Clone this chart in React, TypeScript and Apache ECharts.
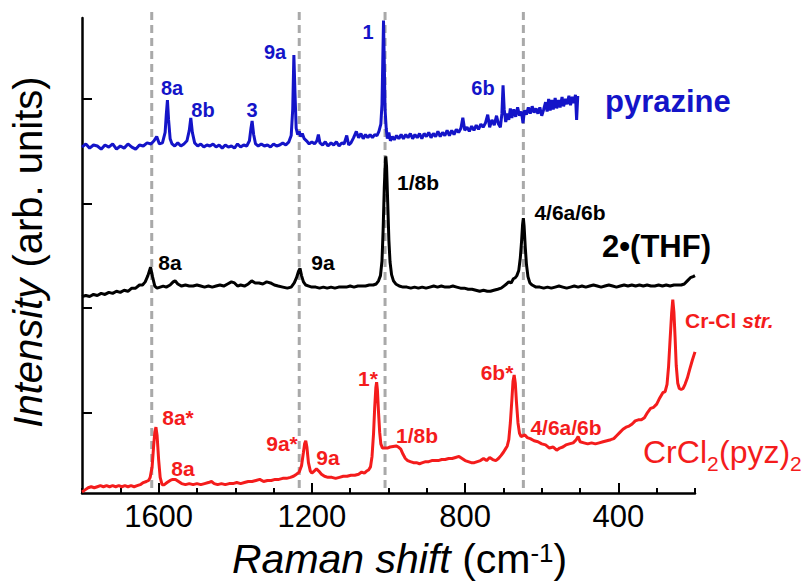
import React, { useEffect, useRef } from 'react';
import * as echarts from 'echarts';

const FONT = "'Liberation Sans', Arial, Helvetica, sans-serif";
const BLUE = '#1414c8';
const RED = '#f41c1c';
const BLACK = '#000000';
const GRAY = '#a9a9a9';

// axis ticks
const xTickLabels = [400, 800, 1200, 1600];
const xMinorTicks = [200, 300, 400, 500, 600, 700, 800, 900, 1000, 1100, 1200, 1300, 1400, 1500, 1600, 1700, 1800];
const yTicks = [0, 1, 2, 3];
const referenceLines = [1618, 1233, 1009, 648];

// pyrazine (blue)
const pyrazine: [number, number][] = [
  [1800,2.54],[1790,2.57],[1780,2.53],[1770,2.56],[1760,2.55],[1750,2.52],[1740,2.56],[1730,2.54],[1720,2.57],[1710,2.52],
  [1700,2.55],[1690,2.53],[1680,2.57],[1670,2.54],[1660,2.52],[1650,2.56],[1640,2.55],[1630,2.58],[1620,2.57],[1612,2.60],
  [1605,2.64],[1598,2.57],[1590,2.58],[1583,2.68],[1580,2.85],[1577,2.99],[1574,2.80],[1570,2.62],[1565,2.57],[1558,2.55],
  [1550,2.58],[1542,2.55],[1534,2.57],[1526,2.60],[1520,2.70],[1516,2.82],[1512,2.68],[1506,2.58],[1498,2.55],[1490,2.57],
  [1482,2.54],[1474,2.56],[1466,2.55],[1458,2.57],[1450,2.54],[1442,2.56],[1434,2.53],[1426,2.56],[1418,2.54],[1410,2.55],
  [1402,2.53],[1394,2.57],[1386,2.54],[1378,2.56],[1370,2.55],[1363,2.60],[1359,2.72],[1356,2.79],[1352,2.66],[1347,2.57],
  [1340,2.55],[1332,2.57],[1324,2.55],[1316,2.56],[1308,2.54],[1300,2.57],[1292,2.55],[1284,2.56],[1276,2.58],[1268,2.56],
  [1260,2.59],[1254,2.65],[1250,2.90],[1247,3.42],[1244,3.05],[1241,2.72],[1237,2.66],[1233,2.69],[1229,2.64],[1225,2.67],
  [1220,2.62],[1214,2.60],[1207,2.57],[1200,2.59],[1193,2.57],[1187,2.60],[1183,2.66],[1179,2.58],[1172,2.56],[1165,2.59],
  [1158,2.55],[1150,2.58],[1143,2.56],[1136,2.59],[1129,2.55],[1122,2.58],[1116,2.57],[1109,2.65],[1104,2.56],[1098,2.58],
  [1091,2.63],[1084,2.69],[1078,2.63],[1072,2.67],[1066,2.62],[1060,2.66],[1054,2.63],[1048,2.66],[1042,2.63],[1036,2.66],
  [1030,2.65],[1025,2.69],[1020,2.76],[1017,2.95],[1015,3.35],[1013,3.75],[1011,3.35],[1009,2.90],[1006,2.72],[1003,2.62],
  [999,2.68],[995,2.60],[990,2.64],[985,2.61],[979,2.65],[973,2.62],[967,2.66],[961,2.62],[955,2.66],[949,2.63],
  [943,2.67],[937,2.62],[931,2.66],[925,2.63],[919,2.67],[913,2.62],[907,2.67],[901,2.64],[895,2.68],[889,2.63],
  [883,2.67],[877,2.64],[871,2.69],[865,2.64],[859,2.68],[853,2.65],[847,2.70],[841,2.65],[835,2.70],[829,2.66],
  [823,2.71],[817,2.68],[811,2.72],[806,2.82],[801,2.70],[795,2.73],[789,2.69],[783,2.74],[777,2.70],[771,2.75],
  [765,2.71],[759,2.76],[753,2.73],[747,2.77],[741,2.85],[736,2.73],[730,2.80],[724,2.75],[718,2.84],[713,2.76],
  [708,2.73],[704,2.86],[701,3.13],[698,2.90],[694,2.78],[690,2.86],[686,2.80],[682,2.91],[678,2.82],[673,2.90],
  [668,2.83],[663,2.92],[658,2.84],[653,2.88],[649,2.77],[645,2.89],[640,2.85],[635,2.92],[630,2.86],[625,2.93],
  [620,2.87],[615,2.91],[610,2.86],[605,2.92],[600,2.84],[595,2.90],[590,2.97],[586,2.88],[582,3.00],[578,2.89],
  [574,2.99],[570,2.90],[565,3.01],[561,2.91],[556,2.99],[552,2.92],[547,3.02],[543,2.93],[538,3.00],[534,2.95],
  [529,3.03],[525,2.94],[520,3.02],[516,2.96],[512,3.04],[509,2.80],[506,3.03]
];

// 2•(THF) (black)
const thf: [number, number][] = [
  [1800,1.11],[1790,1.12],[1780,1.11],[1770,1.13],[1760,1.12],[1750,1.14],[1740,1.13],[1730,1.15],[1720,1.14],[1710,1.16],
  [1700,1.15],[1690,1.17],[1680,1.16],[1670,1.19],[1660,1.19],[1650,1.22],[1642,1.22],[1635,1.25],[1628,1.31],[1621,1.39],
  [1616,1.30],[1610,1.21],[1604,1.19],[1596,1.20],[1588,1.21],[1580,1.20],[1570,1.22],[1562,1.25],[1557,1.26],[1550,1.23],
  [1540,1.21],[1530,1.22],[1520,1.21],[1510,1.21],[1500,1.22],[1490,1.21],[1480,1.20],[1470,1.21],[1460,1.20],[1450,1.21],
  [1440,1.22],[1430,1.21],[1420,1.23],[1410,1.25],[1402,1.24],[1394,1.21],[1386,1.22],[1376,1.21],[1366,1.23],[1357,1.26],
  [1348,1.24],[1338,1.24],[1328,1.23],[1318,1.25],[1308,1.24],[1298,1.22],[1288,1.21],[1276,1.20],[1264,1.19],[1254,1.20],
  [1246,1.24],[1240,1.29],[1235,1.35],[1231,1.38],[1227,1.31],[1222,1.25],[1216,1.22],[1208,1.21],[1200,1.20],[1190,1.20],
  [1180,1.19],[1170,1.20],[1160,1.19],[1150,1.20],[1140,1.19],[1130,1.20],[1120,1.20],[1110,1.20],[1100,1.21],[1090,1.20],
  [1080,1.21],[1070,1.21],[1060,1.21],[1050,1.22],[1040,1.22],[1032,1.23],[1026,1.26],[1021,1.31],[1017,1.45],[1014,1.75],
  [1011,2.15],[1008,2.42],[1007,2.45],[1005,2.35],[1002,2.00],[999,1.65],[996,1.44],[992,1.32],[987,1.26],[981,1.23],
  [972,1.21],[962,1.20],[952,1.20],[942,1.19],[932,1.20],[922,1.19],[912,1.20],[902,1.19],[892,1.20],[882,1.21],
  [872,1.20],[862,1.21],[852,1.20],[842,1.20],[832,1.21],[822,1.20],[812,1.19],[802,1.19],[792,1.18],[782,1.18],
  [772,1.17],[762,1.16],[752,1.17],[742,1.16],[734,1.16],[725,1.17],[715,1.18],[706,1.19],[699,1.21],[692,1.23],
  [686,1.25],[680,1.24],[674,1.28],[669,1.29],[665,1.31],[660,1.36],[656,1.48],[653,1.62],[650,1.80],[648,1.86],
  [646,1.78],[643,1.58],[640,1.42],[636,1.30],[631,1.24],[625,1.22],[615,1.20],[605,1.20],[595,1.19],[585,1.20],
  [575,1.19],[565,1.20],[555,1.21],[545,1.20],[535,1.19],[525,1.20],[515,1.21],[505,1.20],[495,1.21],[485,1.20],
  [475,1.21],[465,1.22],[455,1.21],[445,1.20],[435,1.21],[425,1.22],[415,1.21],[405,1.20],[395,1.21],[385,1.22],
  [375,1.21],[365,1.22],[355,1.21],[345,1.22],[335,1.21],[325,1.22],[315,1.21],[305,1.21],[295,1.22],[285,1.21],
  [275,1.22],[265,1.21],[255,1.22],[245,1.22],[236,1.22],[228,1.23],[220,1.26],[212,1.29],[205,1.30],[200,1.31]
];

// CrCl2(pyz)2 (red)
const crcl2: [number, number][] = [
  [1800,-0.76],[1792,-0.74],[1784,-0.72],[1776,-0.71],[1768,-0.72],[1760,-0.71],[1752,-0.70],[1744,-0.71],[1736,-0.70],[1728,-0.71],
  [1720,-0.70],[1712,-0.71],[1704,-0.70],[1696,-0.71],[1688,-0.70],[1680,-0.71],[1672,-0.70],[1664,-0.71],[1656,-0.70],[1648,-0.69],
  [1640,-0.67],[1632,-0.66],[1626,-0.65],[1622,-0.62],[1617,-0.52],[1613,-0.32],[1610,-0.19],[1607,-0.14],[1604,-0.22],[1600,-0.45],
  [1596,-0.62],[1591,-0.69],[1585,-0.69],[1578,-0.67],[1570,-0.65],[1563,-0.64],[1556,-0.64],[1548,-0.66],[1540,-0.68],[1530,-0.69],
  [1520,-0.68],[1510,-0.69],[1500,-0.68],[1490,-0.69],[1480,-0.68],[1470,-0.67],[1462,-0.66],[1455,-0.68],[1446,-0.69],[1436,-0.68],
  [1426,-0.69],[1416,-0.68],[1406,-0.68],[1396,-0.67],[1386,-0.68],[1376,-0.67],[1366,-0.66],[1356,-0.66],[1346,-0.65],[1336,-0.64],
  [1326,-0.66],[1316,-0.65],[1306,-0.65],[1296,-0.64],[1286,-0.64],[1276,-0.63],[1266,-0.63],[1256,-0.62],[1248,-0.61],[1240,-0.59],
  [1233,-0.57],[1227,-0.51],[1222,-0.38],[1219,-0.30],[1216,-0.27],[1213,-0.33],[1209,-0.48],[1204,-0.56],[1200,-0.58],[1194,-0.56],
  [1188,-0.54],[1182,-0.56],[1175,-0.59],[1167,-0.61],[1158,-0.62],[1148,-0.62],[1138,-0.63],[1128,-0.62],[1118,-0.61],[1108,-0.61],
  [1098,-0.60],[1088,-0.60],[1078,-0.59],[1070,-0.57],[1063,-0.58],[1057,-0.56],[1052,-0.55],[1047,-0.52],[1043,-0.42],[1039,-0.20],
  [1036,0.05],[1033,0.24],[1031,0.29],[1029,0.22],[1026,0.00],[1023,-0.19],[1020,-0.30],[1016,-0.34],[1010,-0.34],[1003,-0.34],
  [996,-0.33],[988,-0.325],[980,-0.32],[974,-0.33],[968,-0.35],[962,-0.40],[956,-0.44],[950,-0.46],[943,-0.47],[935,-0.48],
  [927,-0.48],[919,-0.49],[911,-0.48],[903,-0.47],[895,-0.47],[887,-0.46],[879,-0.46],[870,-0.46],[861,-0.45],[852,-0.45],
  [843,-0.44],[834,-0.44],[825,-0.43],[816,-0.42],[808,-0.44],[800,-0.46],[792,-0.47],[784,-0.48],[776,-0.48],[768,-0.47],
  [760,-0.46],[752,-0.44],[744,-0.46],[736,-0.43],[728,-0.45],[720,-0.46],[713,-0.44],[706,-0.41],[700,-0.38],[695,-0.35],
  [690,-0.32],[686,-0.26],[682,-0.10],[678,0.12],[675,0.30],[672,0.36],[669,0.28],[666,0.10],[662,-0.10],[658,-0.20],
  [654,-0.23],[648,-0.22],[644,-0.215],[638,-0.24],[630,-0.25],[620,-0.27],[610,-0.28],[600,-0.30],[590,-0.31],[580,-0.34],
  [570,-0.33],[561,-0.36],[553,-0.34],[545,-0.33],[537,-0.31],[528,-0.30],[518,-0.29],[510,-0.26],[505,-0.23],[500,-0.28],
  [490,-0.29],[480,-0.30],[470,-0.29],[460,-0.30],[450,-0.29],[440,-0.28],[430,-0.27],[420,-0.26],[412,-0.25],[404,-0.22],
  [396,-0.19],[388,-0.16],[380,-0.14],[372,-0.13],[364,-0.11],[356,-0.08],[348,-0.07],[340,-0.07],[332,-0.05],[324,0.00],
  [316,0.04],[308,0.05],[300,0.08],[292,0.14],[284,0.19],[278,0.20],[273,0.27],[269,0.44],[265,0.70],[261,0.95],
  [258,1.08],[255,0.96],[252,0.72],[249,0.45],[245,0.28],[241,0.23],[236,0.22],[231,0.23],[226,0.27],[220,0.33],
  [214,0.41],[207,0.50],[200,0.58]
];

const peakLabelTexts = {
  blue: ['8a', '8b', '3', '9a', '1', '6b'],
  black: ['8a', '9a', '1/8b', '4/6a/6b'],
  red: ['8a*', '8a', '9a*', '9a', '1*', '1/8b', '6b*', '4/6a/6b'],
};

// layout of the annotation texts (pixels)
const blueLabelPos = [[172, 88], [203, 110], [252, 110], [275, 52], [368, 32], [483, 88]];
const blackLabelPos = [[170, 262], [323, 262], [418, 182], [570, 212]];
const redLabelPos = [[178, 417], [183, 468], [282, 443], [328, 457], [368, 378], [417, 435], [497, 372], [566, 427]];

function peakLabel(text: string, pos: number[], color: string, size: number) {
  return {
    type: 'text',
    x: pos[0],
    y: pos[1],
    silent: true,
    style: {
      text,
      fill: color,
      fontSize: size,
      fontWeight: 'bold',
      fontFamily: FONT,
      align: 'center',
      verticalAlign: 'middle',
    },
  };
}

export default function App() {
  const ref = useRef<HTMLDivElement>(null);

  useEffect(() => {
    if (!ref.current) return;
    const chart = echarts.init(ref.current, undefined, { renderer: 'svg' });

    const dashedSeries = referenceLines.map((x) => ({
      type: 'line',
      data: [[x, 3.833], [x, -0.77]],
      showSymbol: false,
      symbol: 'none',
      clip: false,
      silent: true,
      z: 1,
      lineStyle: { color: GRAY, width: 3, type: [8, 5] },
    }));

    const spec = (data: [number, number][], color: string, width: number) => ({
      type: 'line',
      data,
      showSymbol: false,
      symbol: 'none',
      silent: true,
      z: 3,
      lineStyle: { color, width },
    });

    const graphics: any[] = [];
    peakLabelTexts.blue.forEach((t, i) => graphics.push(peakLabel(t, blueLabelPos[i], BLUE, 20)));
    peakLabelTexts.black.forEach((t, i) => graphics.push(peakLabel(t, blackLabelPos[i], BLACK, 21)));
    peakLabelTexts.red.forEach((t, i) => graphics.push(peakLabel(t, redLabelPos[i], RED, 21)));

    graphics.push({
      type: 'text', x: 605, y: 101, silent: true,
      style: { text: 'pyrazine', fill: BLUE, fontSize: 31, fontWeight: 'bold', fontFamily: FONT, align: 'left', verticalAlign: 'middle' },
    });
    graphics.push({
      type: 'text', x: 602, y: 246, silent: true,
      style: { text: '2•(THF)', fill: BLACK, fontSize: 31, fontWeight: 'bold', fontFamily: FONT, align: 'left', verticalAlign: 'middle' },
    });
    graphics.push({
      type: 'text', x: 685, y: 320, silent: true,
      style: {
        text: 'Cr-Cl {i|str.}', fill: RED, fontSize: 21, fontWeight: 'bold', fontFamily: FONT, align: 'left', verticalAlign: 'middle',
        rich: { i: { fontSize: 21, fontWeight: 'bold', fontStyle: 'italic', fontFamily: FONT, fill: RED } },
      },
    });
    // CrCl2(pyz)2
    const crMain = { fill: RED, fontSize: 32, fontFamily: FONT, align: 'left', verticalAlign: 'middle' };
    const crSub = { fill: RED, fontSize: 21, fontFamily: FONT, align: 'left', verticalAlign: 'middle' };
    graphics.push({ type: 'text', x: 643, y: 452, silent: true, style: { ...crMain, text: 'CrCl' } });
    graphics.push({ type: 'text', x: 707, y: 463, silent: true, style: { ...crSub, text: '2' } });
    graphics.push({ type: 'text', x: 719, y: 452, silent: true, style: { ...crMain, text: '(pyz)' } });
    graphics.push({ type: 'text', x: 790, y: 463, silent: true, style: { ...crSub, text: '2' } });

    // x axis title
    graphics.push({
      type: 'text', x: 232, y: 559, silent: true,
      style: {
        text: '{i|Raman shift} (cm', fill: BLACK, fontSize: 41, fontFamily: FONT, align: 'left', verticalAlign: 'middle',
        rich: { i: { fontSize: 41, fontStyle: 'italic', fontFamily: FONT, fill: BLACK } },
      },
    });
    graphics.push({
      type: 'text', x: 530.4, y: 553, silent: true,
      style: { text: '-1', fill: BLACK, fontSize: 26, fontFamily: FONT, align: 'left', verticalAlign: 'middle' },
    });
    graphics.push({
      type: 'text', x: 553.5, y: 559, silent: true,
      style: { text: ')', fill: BLACK, fontSize: 41, fontFamily: FONT, align: 'left', verticalAlign: 'middle' },
    });
    // y axis title
    graphics.push({
      type: 'text', x: 28, y: 252, rotation: Math.PI / 2, silent: true,
      style: {
        text: '{i|Intensity} (arb. units)', fill: BLACK, fontSize: 40, fontFamily: FONT, align: 'center', verticalAlign: 'middle',
        rich: { i: { fontSize: 40, fontStyle: 'italic', fontFamily: FONT, fill: BLACK } },
      },
    });

    chart.setOption({
      animation: false,
      backgroundColor: '#ffffff',
      textStyle: { fontFamily: FONT },
      grid: { left: 82, right: 111, top: 18, bottom: 89, containLabel: false },
      xAxis: [
        {
          type: 'value', min: 200, max: 1800, interval: 100, inverse: true, position: 'bottom',
          axisLine: { show: true, onZero: false, lineStyle: { color: BLACK, width: 2.5 } },
          axisTick: { show: true, inside: true, length: 5, customValues: xMinorTicks, lineStyle: { color: BLACK, width: 2 } },
          axisLabel: {
            show: true, customValues: xTickLabels, fontSize: 31, color: BLACK, margin: 8, fontFamily: FONT,
            formatter: (v: number) => String(v),
          },
          splitLine: { show: false },
        },
        {
          type: 'value', min: 200, max: 1800, interval: 100, inverse: true, position: 'bottom',
          axisLine: { show: false, onZero: false },
          axisTick: { show: true, inside: true, length: 10, customValues: xTickLabels, lineStyle: { color: BLACK, width: 2 } },
          axisLabel: { show: false },
          splitLine: { show: false },
        },
      ],
      yAxis: {
        type: 'value', min: -0.77, max: 3.775, position: 'left',
        axisLine: { show: true, onZero: false, lineStyle: { color: BLACK, width: 2.5 } },
        axisTick: { show: true, inside: true, length: 10, customValues: yTicks, lineStyle: { color: BLACK, width: 2 } },
        axisLabel: { show: false },
        splitLine: { show: false },
      },
      series: [
        ...dashedSeries,
        spec(pyrazine, BLUE, 3),
        spec(thf, BLACK, 3),
        spec(crcl2, RED, 3),
      ],
      graphic: graphics,
    });

    return () => chart.dispose();
  }, []);

  return (
    <div
      ref={ref}
      style={{ position: 'absolute', left: 0, top: 0, width: 806, height: 582, background: '#fff' }}
    />
  );
}
